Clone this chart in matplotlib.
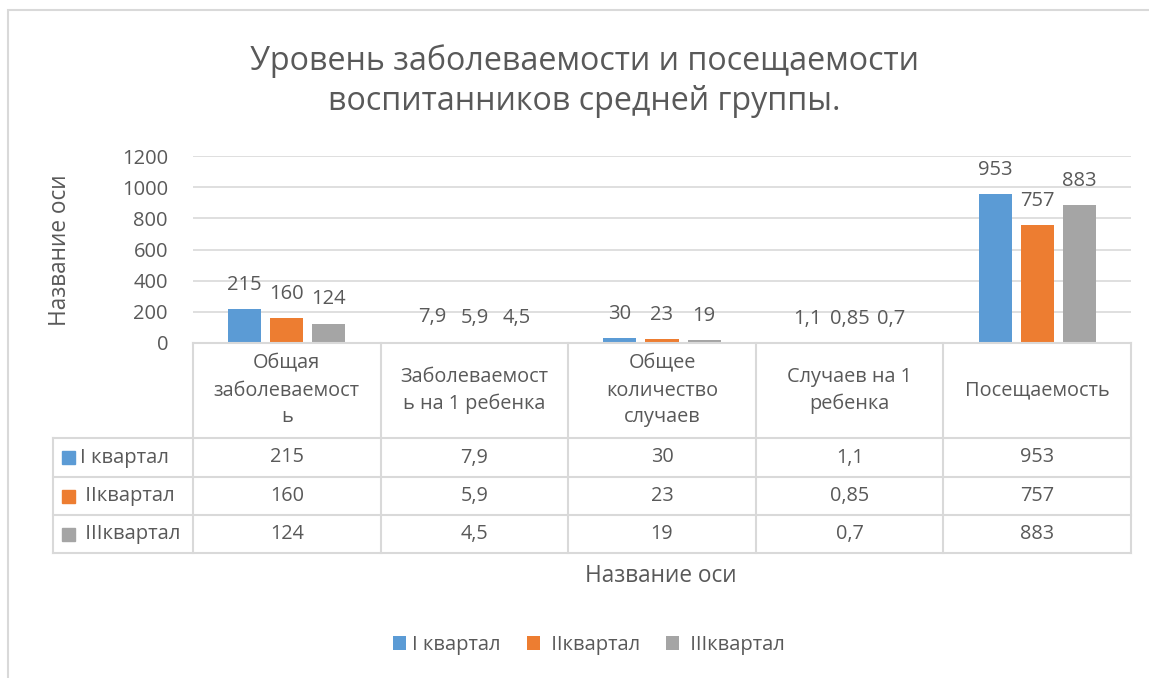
import matplotlib
matplotlib.use("Agg")
import matplotlib.pyplot as plt
from matplotlib.lines import Line2D
from matplotlib.patches import Rectangle

# ---- data ----
categories = ["Общая\nзаболеваемост\nь", "Заболеваемост\nь на 1 ребенка",
              "Общее\nколичество\nслучаев", "Случаев на 1\nребенка", "Посещаемость"]
series_names = ["I квартал", "IIквартал", "IIIквартал"]
q1 = [215, 7.9, 30, 1.1, 953]
q2 = [160, 5.9, 23, 0.85, 757]
q3 = [124, 4.5, 19, 0.7, 883]
yticks = [0, 200, 400, 600, 800, 1000, 1200]
title = "Уровень заболеваемости и посещаемости\nвоспитанников средней группы."
axis_title = "Название оси"

series = [q1, q2, q3]
colors = ["#5B9BD5", "#ED7D31", "#A5A5A5"]
txt = "#595959"
grid = "#D9D9D9"
plt.rcParams['font.family'] = ['Open Sans', 'DejaVu Sans']

W, H = 1149, 678
fig = plt.figure(figsize=(W / 100, H / 100), dpi=100)

def fx(px):
    return px / W

def fy(py):
    return 1 - py / H

def fmt(v):
    s = ("%g" % v)
    return s.replace('.', ',')

# chart frame
fig.add_artist(Rectangle((fx(8), fy(1000)), fx(1300), fy(10) - fy(1000),
                         transform=fig.transFigure, fill=False, ec=grid, lw=1.5))

# plot area
left, right, top, bottom = 193, 1131, 156, 343
ax = fig.add_axes([fx(left), fy(bottom), fx(right - left), fy(top) - fy(bottom)])
n = len(categories)
x = list(range(n))
bw = 0.176
step = 0.224
for i, (vals, c, name) in enumerate(zip(series, colors, series_names)):
    xs = [xi + (i - 1) * step for xi in x]
    bars = ax.bar(xs, vals, width=bw, color=c, label=name, zorder=3)
    for xb, v in zip(xs, vals):
        ax.annotate(fmt(v), (xb, v), xytext=(0, 17.5), textcoords='offset points',
                    ha='center', va='center', fontsize=14.5, color=txt)
ax.set_xlim(-0.5, n - 0.5)
ax.set_ylim(0, 1200)
ax.set_yticks(yticks)
ax.set_yticklabels([str(t) for t in yticks], fontsize=14.5, color=txt)
ax.tick_params(axis='y', length=0, pad=18)
ax.set_xticks([])
ax.grid(axis='y', color=grid, lw=1.2, zorder=0)
for s in ax.spines.values():
    s.set_visible(False)
ax.set_facecolor('none')

# data table
col_edges = [left + (right - left) * k / n for k in range(n + 1)]
row_edges = [343, 438, 477, 515, 553]
tleft = 53

def hline(y, x0, x1):
    fig.add_artist(Line2D([fx(x0), fx(x1)], [fy(y), fy(y)], transform=fig.transFigure,
                          color=grid, lw=1.5))

def vline(xp, y0, y1):
    fig.add_artist(Line2D([fx(xp), fx(xp)], [fy(y0), fy(y1)], transform=fig.transFigure,
                          color=grid, lw=1.5))

hline(row_edges[0], left, right)
for y in row_edges[1:]:
    hline(y, tleft, right)
for xp in col_edges:
    vline(xp, row_edges[0], row_edges[-1])
vline(tleft, row_edges[1], row_edges[-1])

for k, cat in enumerate(categories):
    cx = (col_edges[k] + col_edges[k + 1]) / 2
    fig.text(fx(cx), fy((row_edges[0] + row_edges[1]) / 2), cat, ha='center', va='center',
             fontsize=14.3, color=txt, linespacing=1.45)

for r, (vals, c, name) in enumerate(zip(series, colors, series_names)):
    cy = (row_edges[r + 1] + row_edges[r + 2]) / 2
    fig.add_artist(Rectangle((fx(62), fy(cy + 6.5)), fx(13), fy(cy - 6.5) - fy(cy + 6.5),
                             transform=fig.transFigure, color=c))
    lbl = name if r == 0 else " " + name
    fig.text(fx(80), fy(cy), lbl, ha='left', va='center', fontsize=14.6, color=txt)
    for k, v in enumerate(vals):
        cx = (col_edges[k] + col_edges[k + 1]) / 2
        fig.text(fx(cx), fy(cy), fmt(v), ha='center', va='center', fontsize=14.3, color=txt)

# titles
fig.text(fx(584), fy(81), title, ha='center', va='center', fontsize=23.2, color=txt,
         linespacing=1.3)
fig.text(fx(60), fy(250), axis_title, ha='center', va='center', rotation=90,
         fontsize=16.3, color=txt)
fig.text(fx(661), fy(576), axis_title, ha='center', va='center', fontsize=16.3, color=txt)

# legend
handles, labels = ax.get_legend_handles_labels()
labels = [labels[0]] + [" " + l for l in labels[1:]]
leg = fig.legend(handles, labels, loc='center', bbox_to_anchor=(fx(589), fy(645)),
                 ncol=3, frameon=False, fontsize=14.5, handlelength=0.65, handleheight=0.65,
                 handletextpad=0.3, columnspacing=1.3, labelcolor=txt)

fig.savefig("out.png", dpi=100, facecolor='white')
